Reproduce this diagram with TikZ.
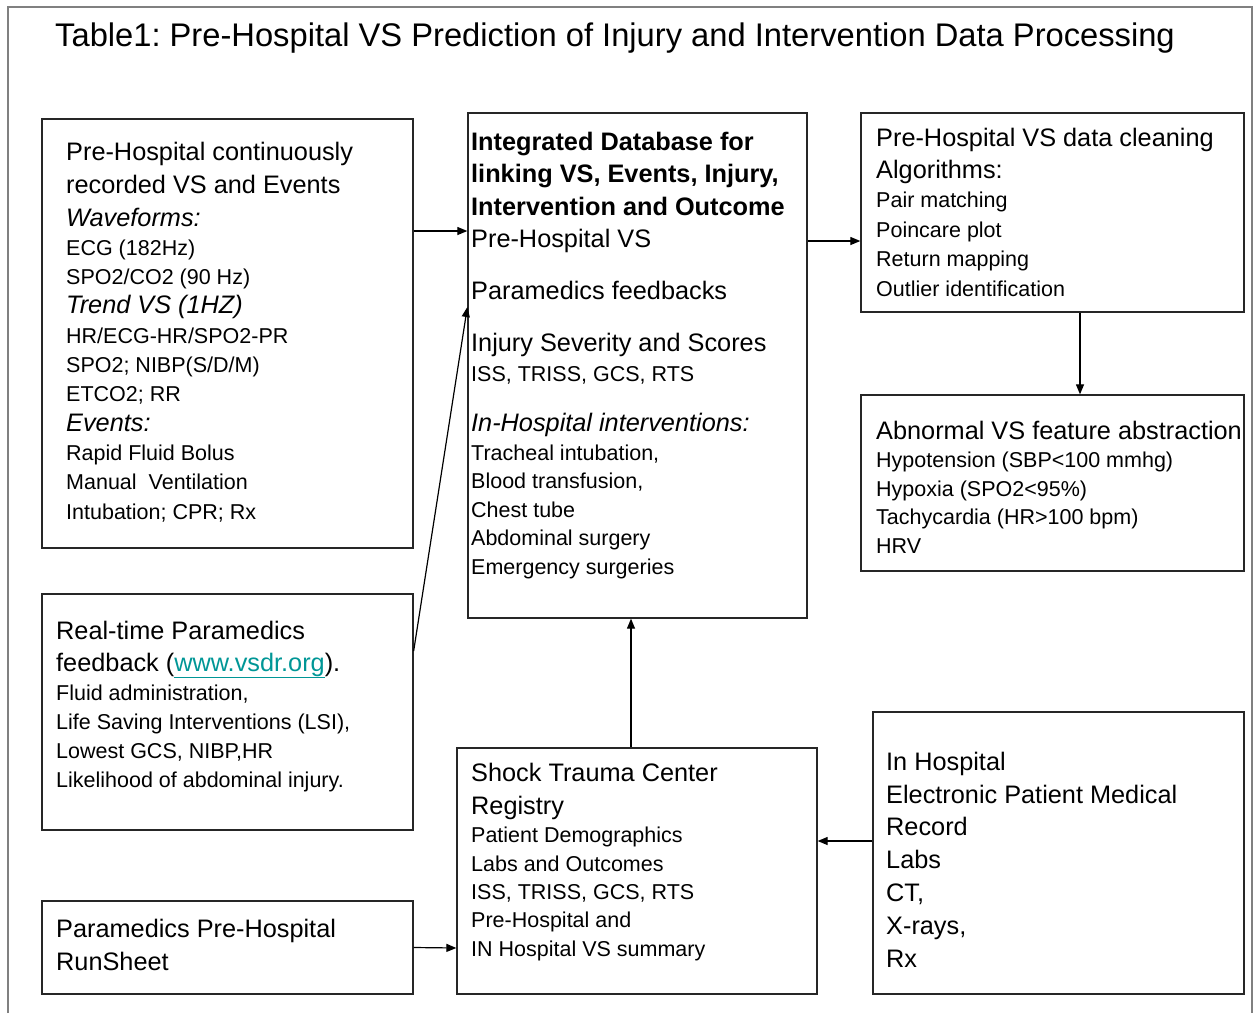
\documentclass[tikz,border=0pt]{standalone}
\usepackage{fontspec}
\setmainfont{Liberation Sans}
\usetikzlibrary{positioning}
\usetikzlibrary{arrows.meta}
\frenchspacing
\definecolor{linkteal}{RGB}{0,150,150}
\newcommand{\bigtxt}{\fontsize{25.3}{29}\selectfont}
\newcommand{\titletxt}{\fontsize{32.7}{36}\selectfont}

\begin{document}
\begin{tikzpicture}
		[
			x = 1pt, y = -1pt,
			box/.style = {rectangle, draw = black!85, line width = 1.3pt, inner sep = 0cm},
			boxtext/.style = {anchor = base west, align = left, inner sep = 0cm},
			arr/.style = {-{Triangle[length = 10pt, width = 8pt]}, line width = 1.2pt},
		]
			%
			\useasboundingbox (0,0) rectangle (1254,1013);
			\draw [gray, line width = 1.5pt] (8,1013) -- (8,7) -- (1252,7) -- (1252,1013);
			%
			\node (title) [anchor = base west, inner sep = 0cm, font = \titletxt] at (55,46) {Table1: Pre-Hospital VS Prediction of Injury and Intervention Data Processing};
			%
			\node (prehosp) [box, minimum width = 371pt, minimum height = 429pt] at (227.5,333.5) {};
			\node (db) [box, minimum width = 339pt, minimum height = 505pt] at (637.5,365.5) {};
			\node (clean) [box, minimum width = 383pt, minimum height = 199pt] at (1052.5,212.5) {};
			\node (abnorm) [box, minimum width = 383pt, minimum height = 176pt] at (1052.5,483) {};
			\node (realtime) [box, minimum width = 371pt, minimum height = 236pt] at (227.5,712) {};
			\node (runsheet) [box, minimum width = 371pt, minimum height = 93pt] at (227.5,947.5) {};
			\node (shock) [box, minimum width = 360pt, minimum height = 246pt] at (637,871) {};
			\node (inhosp) [box, minimum width = 371pt, minimum height = 282pt] at (1058.5,853) {};
			%
			% text blocks sit on the baseline of their last line
			\node (prehosptext) [boxtext, font = {\fontsize{21.5}{29.3}\selectfont}] at (66,519)
				{{\bigtxt Pre-Hospital continuously}\\[3.7pt]
				{\bigtxt recorded VS and Events}\\[3.7pt]
				{\bigtxt\itshape Waveforms:}\\
				ECG (182Hz)\\
				SPO2/CO2 (90 Hz)\\
				{\bigtxt\itshape Trend VS (1HZ)}\\
				HR/ECG-HR/SPO2-PR\\
				SPO2; NIBP(S/D/M)\\
				ETCO2; RR\\
				{\bigtxt\itshape Events:}\\
				Rapid Fluid Bolus\\
				Manual\ \ Ventilation\\
				Intubation; CPR; Rx};
			\node (dbtext) [boxtext, font = {\fontsize{21.5}{28.5}\selectfont}] at (471,574)
				{{\bigtxt\bfseries Integrated Database for}\\[4pt]
				{\bigtxt\bfseries linking VS, Events, Injury,}\\[4.5pt]
				{\bigtxt\bfseries Intervention and Outcome}\\[3.5pt]
				{\bigtxt Pre-Hospital VS}\\[23.5pt]
				{\bigtxt Paramedics feedbacks}\\[23.5pt]
				{\bigtxt Injury Severity and Scores}\\[1.5pt]
				ISS, TRISS, GCS, RTS\\[21.5pt]
				{\bigtxt\itshape In-Hospital interventions:}\\
				Tracheal intubation,\\
				Blood transfusion,\\
				Chest tube\\
				Abdominal surgery\\
				Emergency surgeries};
			\node (cleantext) [boxtext, font = {\fontsize{21.5}{29.5}\selectfont}] at (876,296)
				{{\bigtxt Pre-Hospital VS data cleaning}\\[2.5pt]
				{\bigtxt Algorithms:}\\
				Pair matching\\
				Poincare plot\\
				Return mapping\\
				Outlier identification};
			\node (abnormtext) [boxtext, font = {\fontsize{21.5}{28.5}\selectfont}] at (876,553)
				{{\bigtxt Abnormal VS feature abstraction}\\
				Hypotension (SBP<100 mmhg)\\
				Hypoxia (SPO2<95\%)\\
				Tachycardia (HR>100 bpm)\\
				HRV};
			\node (realtimetext) [boxtext, font = {\fontsize{21.5}{29}\selectfont}] at (56,787)
				{{\bigtxt Real-time Paramedics}\\[3pt]
				{\bigtxt feedback ({\color{linkteal}\underline{www.vsdr.org}}).}\\
				Fluid administration,\\
				Life Saving Interventions (LSI),\\
				Lowest GCS, NIBP,HR\\
				Likelihood of abdominal injury.};
			\node (runsheettext) [boxtext, font = {\fontsize{25.3}{33}\selectfont}] at (56,970)
				{Paramedics Pre-Hospital\\
				RunSheet};
			\node (shocktext) [boxtext, font = {\fontsize{21.5}{28.3}\selectfont}] at (471,956)
				{{\bigtxt Shock Trauma Center}\\[4.7pt]
				{\bigtxt Registry}\\
				Patient Demographics\\
				Labs and Outcomes\\
				ISS, TRISS, GCS, RTS\\
				Pre-Hospital and\\
				IN Hospital VS summary};
			\node (inhosptext) [boxtext, font = {\fontsize{25.3}{32.8}\selectfont}] at (886,967)
				{In Hospital\\
				Electronic Patient Medical\\
				Record\\
				Labs\\
				CT,\\
				X-rays,\\
				Rx};
			%
			\coordinate (vsout) at ([yshift = 102.5pt]prehosp.east);
			\draw [arr] (vsout) -- (vsout -| db.west);
			\draw [arr] ([yshift = 61pt]realtime.east) -- ([yshift = 58.5pt]db.west);
			\draw [arr] ([yshift = 124.5pt]db.east) -- ([yshift = -28.5pt]clean.west);
			\draw [arr] ([xshift = 27.5pt]clean.south) -- ([xshift = 27.5pt]abnorm.north);
			\draw [arr] ([xshift = -6pt]shock.north) -- ([xshift = -6.5pt]db.south);
			\draw [arr] ([yshift = 12pt]inhosp.west) -- ([yshift = 30pt]shock.east);
			\draw [arr] (runsheet.east) -- ([yshift = -77pt]shock.west);
			%
		\end{tikzpicture}
\end{document}
